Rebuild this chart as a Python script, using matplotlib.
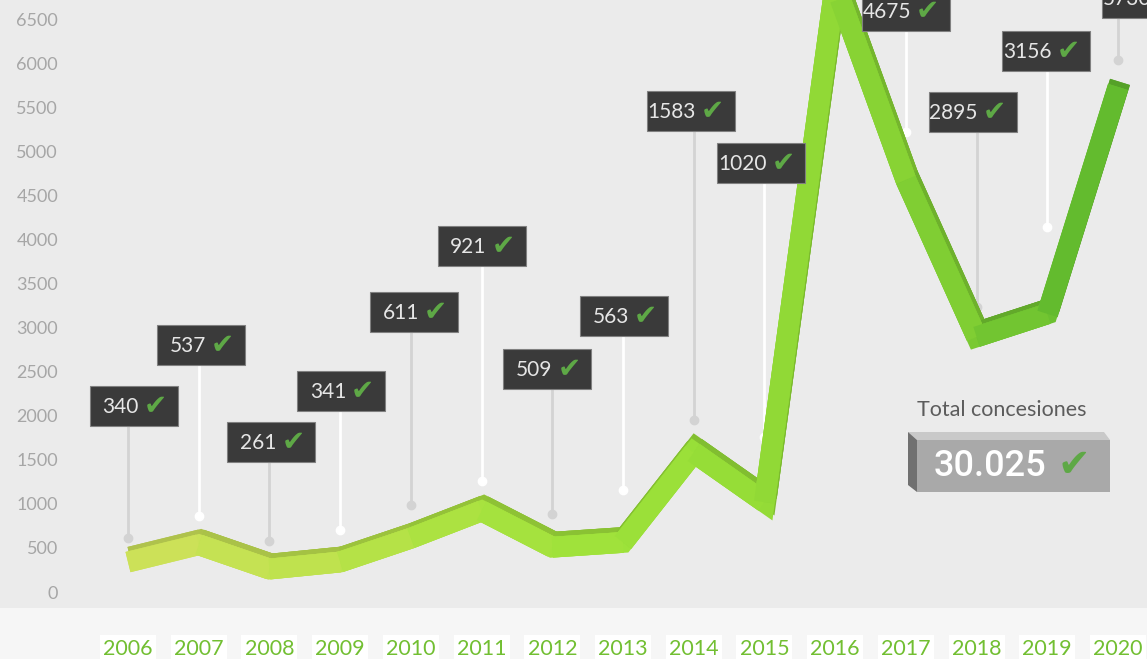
import numpy as np
import matplotlib.pyplot as plt
import matplotlib.transforms as mtransforms
from matplotlib.patches import Rectangle, Polygon
from matplotlib.colors import LinearSegmentedColormap, to_rgb

# datos
years = [2006, 2007, 2008, 2009, 2010, 2011, 2012, 2013, 2014, 2015, 2016, 2017, 2018, 2019, 2020]
concesiones = [340, 537, 261, 341, 611, 921, 509, 563, 1583, 1020, 6883, 4675, 2895, 3156, 5730]
total_text = '30.025'
total_title = 'Total concesiones'
ytick_values = list(range(0, 7000, 500))

# colocacion de las etiquetas (unidades de datos / desplazamiento en pixeles)
# la etiqueta de 2016 queda fuera de la imagen en el original -> None
label_y = [2110, 2802, 1702, 2280, 3176, 3925, 2530, 3131, 5457, 4867, None, 6591, 5445, 6137, 6738]
dot_y = [613, 862, 579, 703, 987, 1259, 885, 1157, 1951, 1758, None, 5218, 3233, 4141, 6035]
label_dx = [6, 2, 2, 1, 3, 0, -5, 1, -3, -3, 0, 0, -4, -1, 28]

W, H = 1147, 659
plt.rcParams['font.family'] = ['Lato', 'DejaVu Sans']

fig = plt.figure(figsize=(W / 100, H / 100), dpi=100)
fig.patch.set_facecolor('#f6f6f6')
ax = fig.add_axes([0, 51 / H, 1, 608 / H])
ax.set_facecolor('#ebebeb')
for s in ax.spines.values():
    s.set_visible(False)

x = np.arange(len(years))
y = np.array(concesiones)

# cinta verde con efecto 3D
cmap = LinearSegmentedColormap.from_list(
    'rib', ['#cfe15b', '#c0e24f', '#aae240', '#9de23a', '#92da36', '#7fcd33', '#5cb62d'])
n = len(x)


def darker(c, f=0.82):
    return tuple(v * f for v in to_rgb(c))


top_tr = mtransforms.offset_copy(ax.transData, fig=fig, x=2, y=5, units='dots')
lw = 15
for tr, shade in [(top_tr, 0.86), (ax.transData, 1.0)]:
    for i in range(1, n - 1):
        ax.plot(x[i - 1:i + 2], y[i - 1:i + 2], color=darker(cmap(i / (n - 1)), shade), lw=lw,
                solid_joinstyle='miter', solid_capstyle='butt', transform=tr, zorder=3)
    for i in range(n - 1):
        ax.plot(x[i:i + 2], y[i:i + 2], color=darker(cmap((i + 0.5) / (n - 1)), shade), lw=lw,
                solid_capstyle='butt', transform=tr, zorder=3)

# lineas guia, cajas y valores
for i, (xi, v) in enumerate(zip(x, concesiones)):
    if label_y[i] is None:
        continue
    c = '#d3d3d3' if i % 2 == 0 else '#ffffff'
    ax.plot([xi, xi], [dot_y[i], label_y[i]], color=c, lw=2, zorder=2)
    ax.plot(xi, dot_y[i], 'o', ms=6, color=c, zorder=2)
    dx = label_dx[i]
    tr = mtransforms.IdentityTransform() + mtransforms.ScaledTranslation(xi, label_y[i], ax.transData)
    ax.add_patch(Rectangle((dx - 44, -20), 88, 40, transform=tr, fc='#3a3a3a', ec='#808080',
                           lw=0.8, zorder=5))
    ax.annotate(f'{v}', xy=(xi, label_y[i]), xytext=(dx + 5, -1), textcoords='offset pixels',
                ha='right', va='center', fontsize=15, color='#e6e6e6', zorder=6,
                annotation_clip=False)
    ax.annotate('\u2714', xy=(xi, label_y[i]), xytext=(dx + 10, 0), textcoords='offset pixels',
                ha='left', va='center', fontsize=20, color='#5ea846', family='DejaVu Sans', zorder=6,
                annotation_clip=False)

ax.set_xlim(-1.81, 14.41)
ax.set_ylim(-181, 6716)
ax.set_yticks(ytick_values, [str(t) for t in ytick_values])
ax.tick_params(axis='y', length=0, pad=-41.8, labelcolor='#a6a6a6', labelsize=13)
ax.set_xticks(x, [str(t) for t in years])
ax.tick_params(axis='x', length=0, pad=22, labelcolor='#72bf32', labelsize=15.5)
for lab in ax.get_xticklabels():
    lab.set_bbox(dict(fc='white', ec='none', boxstyle='square,pad=0.15'))


# caja del total
def P(px, py):
    return (px / W, 1 - py / H)


fig.patches.append(Polygon([P(908, 432), P(1104, 432), P(1110, 440), P(917, 440)],
                           closed=True, fc='#c9c9c9', ec='none', transform=fig.transFigure))
fig.patches.append(Polygon([P(908, 432), P(917, 440), P(917, 492), P(908, 485)],
                           closed=True, fc='#707070', ec='none', transform=fig.transFigure))
fig.patches.append(Polygon([P(917, 440), P(1110, 440), P(1110, 492), P(917, 492)],
                           closed=True, fc='#a9a9a9', ec='none', transform=fig.transFigure))
fig.text(*P(1002, 410), total_title, ha='center', va='center', fontsize=15.5, color='#5c5c5c')
fig.text(*P(990, 466), total_text, ha='center', va='center', fontsize=26, color='white',
         family='Roboto', weight='medium')
fig.text(*P(1074, 465), '\u2714', ha='center', va='center', fontsize=28, color='#5ea846',
         family='DejaVu Sans')

fig.savefig('out.png', dpi=100, facecolor=fig.get_facecolor())
